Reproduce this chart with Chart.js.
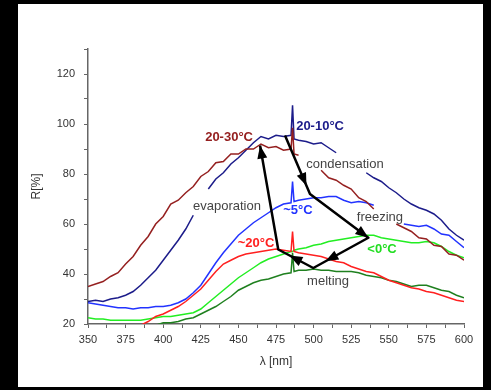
<!DOCTYPE html>
<html>
<head>
<meta charset="utf-8">
<script src="https://cdn.jsdelivr.net/npm/chart.js@4"></script>
<style>
  body { margin: 0; background: #000; width: 491px; height: 390px; overflow: hidden; }
  #caja { position: absolute; left: 18px; top: 4px; width: 465px; height: 383px; background: #fff; }
</style>
</head>
<body>
<div id="caja"><canvas id="myChart" width="465" height="383"></canvas></div>
<script>
// wavelength in nm (extra points at 486 for the lamp spike)
const wavelength = [350,355,360,365,370,375,380,385,390,395,400,405,410,415,420,425,430,435,440,445,450,455,460,465,470,475,480,485,486,487,
  490,495,500,505,510,515,520,525,530,535,540,545,550,555,560,565,570,575,580,585,590,595,600];

// R[%] per curve
const r2030 = [35,36,37,39,40.5,44,47,51.5,55,60,63,68,69.5,72.5,75,79,81,84.5,85,88,88,90,90,92,90.5,91,89.5,90,98.5,88,
  87.5,null,null,81.5,78.5,77.5,75.5,74,70.5,69,66,null,null,60,58.5,57,54.5,54,51.5,51,48,47.5,45.5];
const r2010 = [29,29.5,29,30,30.5,31.5,33,35.5,38.5,41.5,45.5,49.5,53.5,58,63.5,null,74,78,80.5,84,86.5,89.5,92.5,95,94,95.5,95,95.5,107.5,94,
  93.5,93,92,92.5,90.5,88.5,null,null,null,80.5,78.5,77,74.5,72.5,70,68,66.5,65.5,64,61.5,58,55.5,53.5];
const r5 = [28.5,28,27.5,27,26.5,26.5,26,26.5,26.5,27,27,27.5,28.5,30,32.5,35.5,40,44.5,48.5,52,55.5,58,60.5,62.5,64.5,66.5,68,68.5,77,69,
  69.5,70,70.5,70.5,71,71,69.5,68.5,69,68.5,67.5,null,null,null,60,59.5,59,59.5,58,56,55.5,53,50.5];
const r20 = [null,null,null,null,null,null,null,19.5,21,23,24,25.5,27,29,31.5,34,37.5,41,44,45.5,47,48,48.5,49,49.5,50,49.5,49,57,49,
  48.5,48,47.5,47,46,45,44.5,43,42,41,40.5,39,37.5,36.5,35.5,34.5,34,33,32.5,31.5,30.5,29.5,29];
const r0 = [22.5,22,22,21.5,21.5,21.5,21.5,21.5,22,22.5,23,23,23.5,24,24.5,26,28.5,31,33.5,36,38.5,40.5,42.5,44.5,46,47,48,49,49,49.5,
  50,50.5,51.5,52,53,53.5,54,54.5,55,55.5,55.5,54.5,54,53.5,53,52.5,52.5,53,52.5,51,49,47.5,46.5];
const rMelt = [null,null,null,null,null,null,null,null,null,19.5,20.5,20.5,21,22,22.5,24,25.5,27,29,31,33.5,35,36.5,37.5,38,39,40,40.5,48.5,41,
  41.5,41.5,42,41.5,41.5,41,41,41,40.5,39.5,39,38.5,37.5,37,36,35,35.5,35.5,34.5,33.5,33,31.5,30.5];

// arrow path (nm, R%): condensation -> freezing -> melting -> evaporation
const arrowNm = [481, 497.6, 536.4, 499.8, 476.5, 464.4];
const arrowR  = [95.4, 72, 54.5, 42.4, 49.8, 91.4];
const arrowHeads = [[0, 0.86], [1, 1], [2, 0.78], [3, 0.68], [4, 1]];

// text notes (nm, R%)
const notes = [
  { text: "20-30°C", nm: 443.8, r: 94.5, color: "#952020", bold: true },
  { text: "20-10°C", nm: 504.3, r: 98.9, color: "#1c1c8a", bold: true },
  { text: "condensation", nm: 520.9, r: 84, color: "#444", bold: false },
  { text: "evaporation", nm: 442.4, r: 67.1, color: "#444", bold: false },
  { text: "~5°C", nm: 489.6, r: 65.5, color: "#2233ff", bold: true },
  { text: "freezing", nm: 544.1, r: 62.7, color: "#444", bold: false },
  { text: "~20°C", nm: 461.7, r: 52.2, color: "#ff2020", bold: true },
  { text: "<0°C", nm: 545.5, r: 49.8, color: "#22dd22", bold: true },
  { text: "melting", nm: 509.6, r: 36.9, color: "#444", bold: false }
];

const fuente = "'Liberation Sans', Arial, sans-serif";

function serie(valores, color) {
  return {
    data: wavelength.map((w, i) => ({ x: w, y: valores[i] })),
    borderColor: color,
    borderWidth: 1.5,
    pointRadius: 0,
    tension: 0,
    spanGaps: false
  };
}

const notasPlugin = {
  id: "notas",
  afterDatasetsDraw(chart) {
    const { ctx, scales: { x, y } } = chart;
    ctx.save();
    const pts = arrowNm.map((n, i) => [x.getPixelForValue(n), y.getPixelForValue(arrowR[i])]);
    ctx.strokeStyle = "#000";
    ctx.fillStyle = "#000";
    ctx.lineWidth = 2.5;
    ctx.lineJoin = "round";
    ctx.beginPath();
    pts.forEach((p, i) => i ? ctx.lineTo(p[0], p[1]) : ctx.moveTo(p[0], p[1]));
    ctx.stroke();
    arrowHeads.forEach(([s, t]) => {
      const a = pts[s], b = pts[s + 1];
      const tx = a[0] + (b[0] - a[0]) * t, ty = a[1] + (b[1] - a[1]) * t;
      const ang = Math.atan2(b[1] - a[1], b[0] - a[0]);
      ctx.beginPath();
      ctx.moveTo(tx, ty);
      ctx.lineTo(tx - 13 * Math.cos(ang) + 5 * Math.sin(ang), ty - 13 * Math.sin(ang) - 5 * Math.cos(ang));
      ctx.lineTo(tx - 13 * Math.cos(ang) - 5 * Math.sin(ang), ty - 13 * Math.sin(ang) + 5 * Math.cos(ang));
      ctx.closePath();
      ctx.fill();
    });
    ctx.textAlign = "center";
    ctx.textBaseline = "middle";
    notes.forEach(n => {
      ctx.font = (n.bold ? "bold " : "") + "13px " + fuente;
      ctx.fillStyle = n.color;
      ctx.fillText(n.text, x.getPixelForValue(n.nm), y.getPixelForValue(n.r));
    });
    ctx.restore();
  }
};

const config = {
  type: "line",
  data: {
    datasets: [
      serie(r2030, "#952020"),
      serie(r2010, "#1c1c8a"),
      serie(r5, "#2233ff"),
      serie(r20, "#ff2020"),
      serie(r0, "#22ee22"),
      serie(rMelt, "#1f801f")
    ]
  },
  options: {
    responsive: false,
    devicePixelRatio: 1,
    animation: false,
    layout: { padding: { left: 0, right: 19, top: 45, bottom: 0 } },
    plugins: { legend: { display: false }, tooltip: { enabled: false } },
    scales: {
      x: {
        type: "linear",
        min: 350,
        max: 600,
        afterFit: s => { s.height = 63; },
        border: { display: true, color: "#666", width: 1.5 },
        grid: { drawOnChartArea: false, drawTicks: true, tickLength: 4, color: "#666" },
        ticks: {
          stepSize: 12.5,
          autoSkip: false,
          maxRotation: 0,
          padding: 5,
          color: "#333",
          font: { family: fuente, size: 11 },
          callback: v => v % 25 === 0 ? v : ""
        },
        title: { display: true, text: "λ [nm]", color: "#333", font: { family: fuente, size: 12 }, padding: { top: 0, bottom: 18 } }
      },
      y: {
        min: 20,
        max: 130,
        afterFit: s => { s.width = 70; },
        border: { display: true, color: "#666", width: 1.5 },
        grid: { drawOnChartArea: false, drawTicks: true, tickLength: 4, color: "#666" },
        ticks: {
          stepSize: 10,
          autoSkip: false,
          padding: 9,
          color: "#333",
          font: { family: fuente, size: 11 },
          callback: v => v % 20 === 0 && v <= 120 ? v : ""
        },
        title: { display: true, text: "R[%]", color: "#333", font: { family: fuente, size: 12 }, padding: { top: 11, bottom: 0 } }
      }
    }
  },
  plugins: [notasPlugin]
};

const myChart = new Chart(document.getElementById("myChart"), config);
</script>
</body>
</html>
